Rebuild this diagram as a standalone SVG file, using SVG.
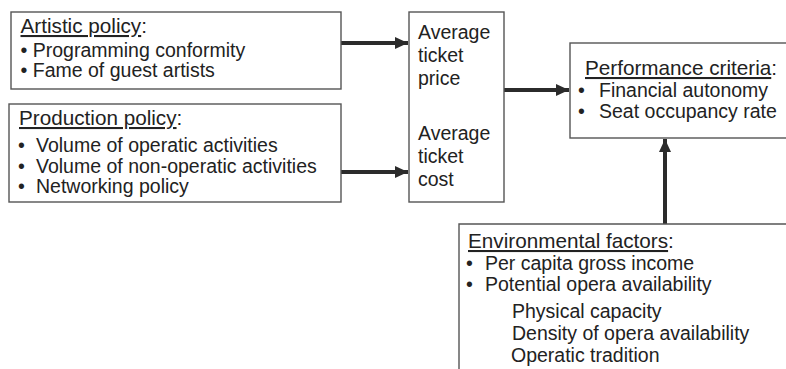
<svg xmlns="http://www.w3.org/2000/svg" width="786" height="369" viewBox="0 0 786 369">
<defs>
<style>
.box{fill:#fff;stroke:#555;stroke-width:1.4}
.t{font-family:"Liberation Sans",Arial,sans-serif;font-size:19.5px;fill:#222}
.h{font-size:20.7px}
.u{text-decoration:underline}
.conn{stroke:#2b2b2b;stroke-width:4;fill:none}
</style>
<marker id="ah" markerUnits="userSpaceOnUse" markerWidth="14" markerHeight="14" viewBox="0 0 14 14" refX="13" refY="7" orient="auto">
<path d="M0,1 L13,7 L0,13 Z" fill="#2b2b2b"/>
</marker>
</defs>
<rect width="786" height="369" fill="#fff"/>
<g id="connectors">
<line class="conn" x1="341" y1="43" x2="408" y2="43" marker-end="url(#ah)"/>
<line class="conn" x1="341" y1="172" x2="408" y2="172" marker-end="url(#ah)"/>
<line class="conn" x1="504" y1="90" x2="569" y2="90" marker-end="url(#ah)"/>
<line class="conn" x1="665" y1="224" x2="665" y2="139" marker-end="url(#ah)"/>
</g>
<g id="artistic">
<rect class="box" x="11" y="12" width="330" height="77"/>
<text class="t h" x="20.5" y="33"><tspan class="u">Artistic policy</tspan>:</text>
<text class="t" x="20.5" y="57">• Programming conformity</text>
<text class="t" x="20.5" y="77">• Fame of guest artists</text>
</g>
<g id="production">
<rect class="box" x="9" y="104" width="332" height="98"/>
<text class="t h" x="19" y="125"><tspan class="u">Production policy</tspan>:</text>
<text class="t" x="18" y="152">•</text><text class="t" x="36" y="152">Volume of operatic activities</text>
<text class="t" x="18" y="173">•</text><text class="t" x="36" y="173">Volume of non-operatic activities</text>
<text class="t" x="18" y="193">•</text><text class="t" x="36" y="193">Networking policy</text>
</g>
<g id="ticket">
<rect class="box" x="409" y="12" width="95" height="190"/>
<text class="t" x="418" y="39">Average</text>
<text class="t" x="418" y="62">ticket</text>
<text class="t" x="418" y="85">price</text>
<text class="t" x="418" y="140">Average</text>
<text class="t" x="418" y="163">ticket</text>
<text class="t" x="418" y="186">cost</text>
</g>
<g id="performance">
<rect class="box" x="570" y="43" width="230" height="95"/>
<text class="t h" x="585" y="75"><tspan class="u">Performance criteria</tspan>:</text>
<text class="t" x="578" y="97">•</text><text class="t" x="599" y="97">Financial autonomy</text>
<text class="t" x="578" y="118">•</text><text class="t" x="599" y="118">Seat occupancy rate</text>
</g>
<g id="environment">
<path class="box" d="M459,380 V224 H800"/>
<text class="t h" x="468" y="248"><tspan class="u">Environmental factors</tspan>:</text>
<text class="t" x="466" y="270">•</text><text class="t" x="485" y="270">Per capita gross income</text>
<text class="t" x="466" y="291">•</text><text class="t" x="485" y="291">Potential opera availability</text>
<text class="t" x="512" y="318">Physical capacity</text>
<text class="t" x="512" y="340">Density of opera availability</text>
<text class="t" x="511" y="362">Operatic tradition</text>
</g>
</svg>
